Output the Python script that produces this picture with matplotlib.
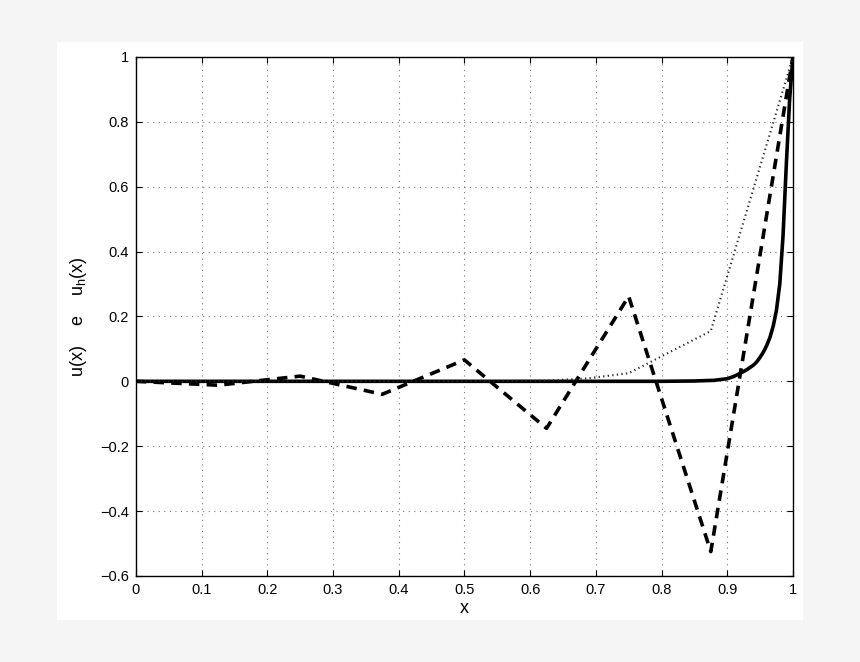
import numpy as np
import matplotlib
matplotlib.use("Agg")
import matplotlib.pyplot as plt
from matplotlib.patches import Rectangle

plt.rcParams['font.family'] = ['Liberation Sans', 'DejaVu Sans']
plt.rcParams['mathtext.default'] = 'regular'

# coarse mesh nodes (h = 1/8)
x_nodes = [0, 0.125, 0.25, 0.375, 0.5, 0.625, 0.75, 0.875, 1.0]
# dashed: oscillating discrete solution
u_dashed = [0, -0.012, 0.016, -0.04, 0.066, -0.145, 0.262, -0.525, 1.0]
# dotted: stabilised discrete solution
x_dotted = [0, 0.125, 0.25, 0.375, 0.5, 0.625, 0.6875, 0.75, 0.875, 1.0]
u_dotted = [0, 0, 0, 0, 0, 0.002, 0.009, 0.025, 0.155, 1.0]
# solid: exact solution
x_exact = [0, 0.5, 0.8, 0.85, 0.88, 0.9, 0.91, 0.92, 0.93, 0.94, 0.945, 0.95,
           0.955, 0.96, 0.965, 0.97, 0.975, 0.98, 0.985, 0.99, 0.995, 1.0]
u_exact = [0, 0, 0, 0.001, 0.003, 0.008, 0.015, 0.025, 0.036, 0.05, 0.06, 0.074,
           0.09, 0.11, 0.135, 0.17, 0.22, 0.3, 0.45, 0.67, 0.87, 1.0]

fig = plt.figure(figsize=(8.6, 6.62), dpi=100)
fig.patch.set_facecolor('#f5f5f5')
# white panel behind the axes
fig.patches.append(Rectangle((0.066, 0.063), 0.868, 0.874, transform=fig.transFigure,
                             facecolor='white', edgecolor='none', zorder=-10))

ax = fig.add_axes([0.158, 0.130, 0.764, 0.784])
ax.plot(x_exact, u_exact, color='black', lw=2.6, solid_joinstyle='round')
ax.plot(x_nodes, u_dashed, color='black', lw=2.6, dashes=(2.9, 2.0))
ax.plot(x_dotted, u_dotted, color='#222222', lw=1.5, dashes=(0.6, 1.6))

ax.set_xlim(0, 1)
ax.set_ylim(-0.6, 1)
ax.set_xticks(np.arange(0, 1.01, 0.1))
ax.set_xticklabels(['0', '0.1', '0.2', '0.3', '0.4', '0.5', '0.6', '0.7', '0.8', '0.9', '1'])
ax.set_yticks(np.arange(-0.6, 1.01, 0.2))
ax.set_yticklabels(['\u22120.6', '\u22120.4', '\u22120.2', '0', '0.2', '0.4', '0.6', '0.8', '1'])
ax.tick_params(direction='in', top=True, right=True, length=4, width=0.8,
               labelsize=10.5, pad=5)
ax.grid(True, color='#777777', linestyle=(0, (1, 4)), linewidth=0.8)
for s in ax.spines.values():
    s.set_linewidth(1.0)

ax.set_xlabel('x', fontsize=13, labelpad=2)
ax.set_ylabel('u(x)    e    u$_h$(x)', fontsize=13, labelpad=8)

fig.savefig('out.png', dpi=100, facecolor=fig.get_facecolor())
